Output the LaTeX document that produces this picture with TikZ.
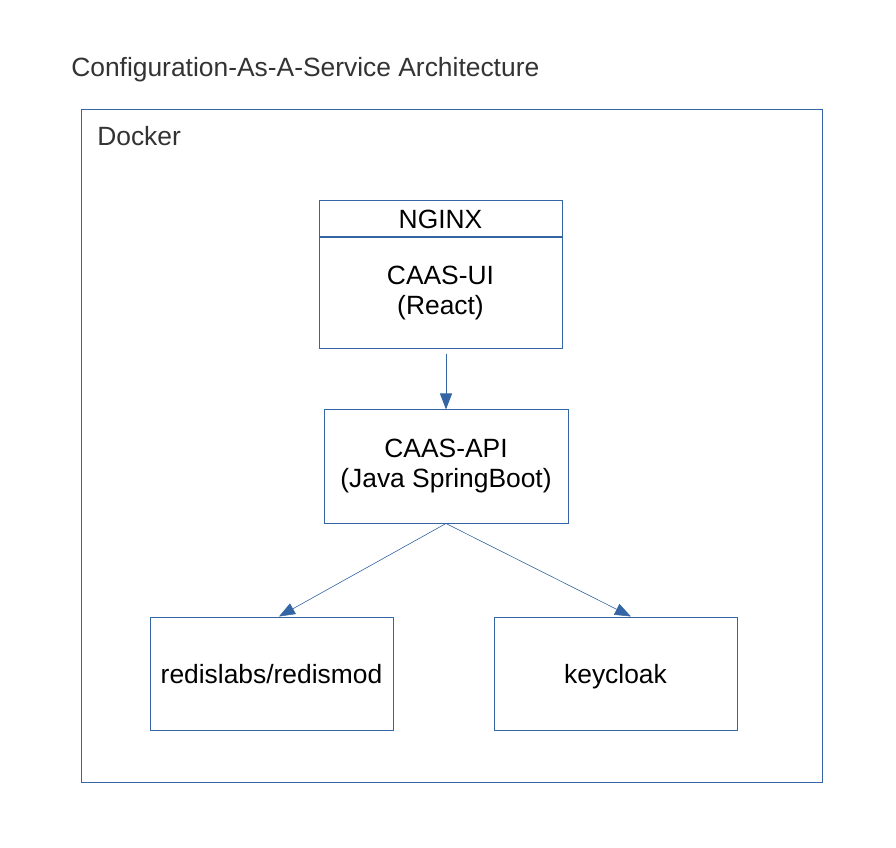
\documentclass[tikz,border=0pt]{standalone}
\usepackage{fontspec}
\setmainfont{Liberation Sans}
\usetikzlibrary{arrows.meta,positioning}

\definecolor{lineblue}{HTML}{3465A4}
\definecolor{titlegrey}{HTML}{333333}

\tikzset{
  box/.style={draw=lineblue,line width=0.75pt,rectangle,minimum width=182.25pt,
              minimum height=84.75pt,align=center,inner sep=0pt,
              font=\fontsize{19.8}{22.5}\selectfont},
  label text/.style={anchor=west,inner sep=0pt,font=\fontsize{19.8}{22.5}\selectfont},
  flow/.style={-{Triangle[length=12pt,width=9pt]},draw=lineblue,fill=lineblue}
}

\begin{document}
\begin{tikzpicture}[x=0.75pt,y=-0.75pt,node distance=0pt]

            \useasboundingbox (0,0) rectangle (896,848);

            \node[label text,text=titlegrey] (title) at (71,70) {Configuration-As-A-Service Architecture};

            \draw[lineblue,line width=0.75pt] (81,110) rectangle (822,782);
            \node[label text,text=titlegrey] (docker) at (97,136) {Docker};

            \node[box,minimum height=27pt] (nginx) at (440.5,219) {NGINX};

            \node[box,minimum height=83.25pt] (ui) [below=of nginx] {CAAS-UI\\(React)};

            \node[box,minimum width=183pt] (api) at (446,466.5) {CAAS-API\\(Java SpringBoot)};

            \node[box,text depth=0pt] (redis) at (271.5,673.5) {redislabs/redismod};

            \node[box,text depth=0pt] (keycloak) at (615.5,673.5) {keycloak};

            

            \draw[flow,line width=0.75pt,shorten <=3.75pt] (ui.south -| api.north) -- (api.north);

            \draw[flow,line width=0.4pt] (api.south) -- ([xshift=5.6pt]redis.north);

            \draw[flow,line width=0.4pt] (api.south) -- ([xshift=11.6pt]keycloak.north);

        \end{tikzpicture}
\end{document}
